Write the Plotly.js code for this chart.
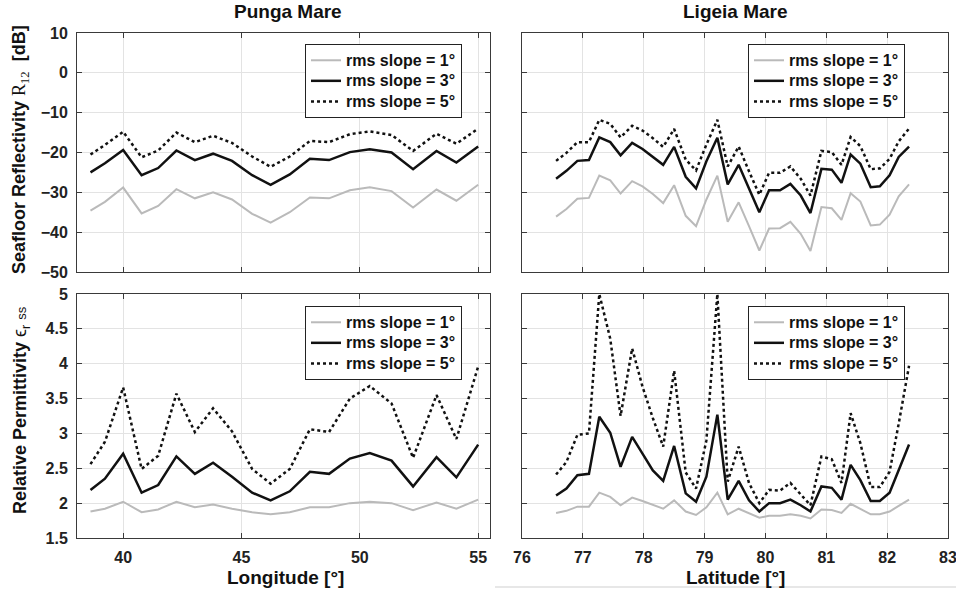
<!DOCTYPE html>
<html>
<head>
<meta charset="utf-8">
<script src="https://cdn.plot.ly/plotly-3.0.1.min.js"></script>
<style>html,body{margin:0;padding:0;background:#fff;}#chart{width:956px;height:589px;}</style>
</head>
<body>
<div id="chart"></div>
<script>
// ---------------- data ----------------
var punga_lon = [38.62, 39.23, 40.0, 40.78, 41.48, 42.25, 43.03, 43.80, 44.6, 45.45, 46.23, 47.04, 47.89, 48.70, 49.58, 50.42, 51.34, 52.25, 53.24, 54.08, 55.0];
var punga_R_1 = [-34.6, -32.4, -28.8, -35.3, -33.4, -29.2, -31.5, -30.0, -31.8, -35.4, -37.6, -35.0, -31.3, -31.5, -29.5, -28.7, -29.7, -33.8, -29.3, -32.1, -28.1];
var punga_R_3 = [-25.0, -22.7, -19.4, -25.7, -23.9, -19.5, -21.9, -20.3, -22.1, -25.7, -28.1, -25.5, -21.6, -21.9, -19.9, -19.2, -20.0, -24.2, -19.6, -22.5, -18.5];
var punga_R_5 = [-20.5, -18.1, -14.8, -21.2, -19.5, -15.0, -17.4, -15.8, -17.6, -21.0, -23.6, -21.0, -17.1, -17.4, -15.4, -14.7, -15.6, -19.6, -15.3, -17.8, -14.0];
var punga_E_1 = [1.88, 1.92, 2.02, 1.87, 1.91, 2.02, 1.94, 1.98, 1.92, 1.87, 1.84, 1.87, 1.94, 1.94, 2.00, 2.02, 2.00, 1.90, 2.01, 1.92, 2.05];
var punga_E_3 = [2.19, 2.35, 2.71, 2.15, 2.26, 2.67, 2.42, 2.58, 2.38, 2.15, 2.04, 2.17, 2.45, 2.42, 2.64, 2.72, 2.61, 2.24, 2.66, 2.37, 2.84];
var punga_E_5 = [2.56, 2.88, 3.66, 2.49, 2.68, 3.57, 3.02, 3.36, 3.03, 2.49, 2.28, 2.49, 3.06, 3.02, 3.50, 3.68, 3.43, 2.65, 3.55, 2.92, 3.96];

var ligeia_lat = [76.56, 76.73, 76.91, 77.10, 77.27, 77.45, 77.62, 77.81, 77.98, 78.15, 78.32, 78.50, 78.69, 78.86, 79.03, 79.21, 79.38, 79.56, 79.73, 79.90, 80.06, 80.24, 80.41, 80.58, 80.74, 80.92, 81.09, 81.25, 81.40, 81.56, 81.73, 81.88, 82.04, 82.19, 82.36];
var ligeia_R_1 = [-36.1, -34.2, -31.6, -31.4, -25.8, -27.0, -30.3, -27.2, -28.5, -30.4, -32.7, -28.2, -35.9, -38.5, -31.8, -25.8, -37.4, -32.5, -38.5, -44.6, -39.1, -39.0, -37.4, -40.4, -44.7, -33.7, -34.0, -36.9, -30.2, -32.3, -38.3, -38.1, -35.6, -31.0, -28.0];
var ligeia_R_3 = [-26.6, -24.6, -22.1, -21.9, -16.2, -17.4, -20.7, -17.6, -19.1, -21.0, -23.1, -18.6, -26.1, -29.0, -22.2, -16.3, -28.0, -23.1, -29.2, -35.0, -29.5, -29.5, -27.9, -30.8, -35.2, -24.1, -24.3, -27.6, -20.5, -22.8, -28.7, -28.5, -25.7, -21.1, -18.5];
var ligeia_R_5 = [-22.1, -20.1, -17.4, -17.4, -11.8, -12.8, -16.2, -13.3, -14.5, -16.4, -18.6, -14.1, -21.8, -24.5, -18.0, -11.8, -23.5, -18.5, -24.7, -30.6, -25.1, -25.1, -23.5, -26.6, -30.8, -19.6, -19.9, -23.1, -16.1, -18.4, -24.2, -24.0, -21.6, -17.2, -14.0];
var ligeia_E_1 = [1.86, 1.89, 1.95, 1.95, 2.15, 2.09, 1.97, 2.08, 2.03, 1.97, 1.92, 2.04, 1.88, 1.83, 1.94, 2.15, 1.84, 1.92, 1.86, 1.79, 1.82, 1.82, 1.84, 1.82, 1.78, 1.91, 1.90, 1.86, 1.99, 1.92, 1.84, 1.84, 1.88, 1.96, 2.05];
var ligeia_E_3 = [2.11, 2.21, 2.40, 2.42, 3.24, 3.01, 2.52, 2.95, 2.71, 2.47, 2.32, 2.82, 2.14, 2.02, 2.38, 3.27, 2.05, 2.32, 2.04, 1.88, 2.00, 2.00, 2.05, 1.97, 1.88, 2.24, 2.22, 2.05, 2.55, 2.33, 2.03, 2.03, 2.15, 2.47, 2.84];
var ligeia_E_5 = [2.41, 2.59, 2.98, 3.00, 5.00, 4.36, 3.25, 4.22, 3.67, 3.22, 2.81, 3.90, 2.44, 2.21, 2.90, 5.00, 2.31, 2.81, 2.29, 2.00, 2.19, 2.18, 2.29, 2.13, 1.97, 2.67, 2.63, 2.29, 3.29, 2.86, 2.23, 2.23, 2.45, 3.14, 3.97];

var seriesNames = ['rms slope = 1°', 'rms slope = 3°', 'rms slope = 5°'];
var panelTitles = ['Punga Mare', 'Ligeia Mare'];
var xTitles = ['Longitude [°]', 'Latitude [°]'];

// ---------------- layout helpers ----------------
var W = 956, H = 589;
function PX(p){ return p / W; }
function PY(p){ return 1 - p / H; }
var FONT = 'Liberation Sans, Arial, Helvetica, sans-serif';

var styles = [
  {color: '#bababa', width: 2, dash: 'solid'},
  {color: '#111111', width: 2.5, dash: 'solid'},
  {color: '#111111', width: 2.5, dash: 'dot'}
];

var traces = [];
function addPanel(x, ys, xa, ya, leg){
  for (var i = 0; i < 3; i++){
    traces.push({
      x: x, y: ys[i], type: 'scatter', mode: 'lines',
      name: '<span style="font-size:16px">' + seriesNames[i] + '</span>',
      xaxis: xa, yaxis: ya, legend: leg,
      line: styles[i], cliponaxis: true, hoverinfo: 'skip'
    });
  }
}
addPanel(punga_lon, [punga_R_1, punga_R_3, punga_R_5], 'x', 'y', 'legend');
addPanel(ligeia_lat, [ligeia_R_1, ligeia_R_3, ligeia_R_5], 'x2', 'y2', 'legend2');
addPanel(punga_lon, [punga_E_1, punga_E_3, punga_E_5], 'x3', 'y3', 'legend3');
addPanel(ligeia_lat, [ligeia_E_1, ligeia_E_3, ligeia_E_5], 'x4', 'y4', 'legend4');

var tickfont = {family: FONT, size: 16, color: '#222', weight: 'bold'};
function axis(dom, range, dtick, showLabels, anchor){
  return {
    domain: dom, range: range, dtick: dtick, tick0: 0, anchor: anchor,
    showgrid: true, gridcolor: '#e3e3e3', gridwidth: 1,
    zeroline: false, showline: true, linecolor: '#3a3a3a', linewidth: 1,
    mirror: 'ticks', ticks: 'inside', ticklen: 5, tickcolor: '#3a3a3a', tickwidth: 1,
    showticklabels: showLabels, tickfont: tickfont, ticklabelstandoff: 5,
    ticklabeloverflow: 'allow',
    fixedrange: true
  };
}
var xL = [PX(77), PX(490)], xR = [PX(522), PX(948)];
var yT = [PY(272), PY(33)], yB = [PY(538), PY(294)];

function legend(xpx, ypx){
  return {
    x: PX(xpx), y: PY(ypx), xanchor: 'right', yanchor: 'top',
    bgcolor: '#ffffff', bordercolor: '#222', borderwidth: 1,
    font: {family: FONT, size: 13.5, color: '#111', weight: 'bold'},
    itemwidth: 30, tracegroupgap: 0
  };
}

var annFont = {family: FONT, size: 19, color: '#111', weight: 'bold'};
var layout = {
  width: W, height: H, margin: {l: 0, r: 0, t: 0, b: 0},
  paper_bgcolor: '#ffffff', plot_bgcolor: '#ffffff', showlegend: true,
  xaxis: axis(xL, [38.05, 55.5], 5, false, 'y'),
  yaxis: axis(yT, [-50, 10], 10, true, 'x'),
  xaxis2: axis(xR, [76, 83], 1, false, 'y2'),
  yaxis2: axis(yT, [-50, 10], 10, false, 'x2'),
  xaxis3: axis(xL, [38.05, 55.5], 5, true, 'y3'),
  yaxis3: axis(yB, [1.5, 5], 0.5, true, 'x3'),
  xaxis4: axis(xR, [76, 83], 1, true, 'y4'),
  yaxis4: axis(yB, [1.5, 5], 0.5, false, 'x4'),
  legend: legend(462, 44),
  legend2: legend(905, 44),
  legend3: legend(462, 306),
  legend4: legend(905, 306),
  annotations: [
    {text: panelTitles[0], x: PX(288), y: PY(12), xref: 'paper', yref: 'paper', showarrow: false, font: annFont, xanchor: 'center', yanchor: 'middle'},
    {text: panelTitles[1], x: PX(735), y: PY(12), xref: 'paper', yref: 'paper', showarrow: false, font: annFont, xanchor: 'center', yanchor: 'middle'},
    {text: xTitles[0], x: PX(285), y: PY(577), xref: 'paper', yref: 'paper', showarrow: false, font: annFont, xanchor: 'center', yanchor: 'middle'},
    {text: xTitles[1], x: PX(735), y: PY(577), xref: 'paper', yref: 'paper', showarrow: false, font: annFont, xanchor: 'center', yanchor: 'middle'},
    {text: 'Seafloor Reflectivity <span style="font-family:Liberation Serif;font-weight:normal">R<sub>12</sub></span>  [dB]', x: PX(21), y: PY(150), xref: 'paper', yref: 'paper', showarrow: false, textangle: -90, font: {family: FONT, size: 18, color: '#111', weight: 'bold'}, xanchor: 'center', yanchor: 'middle'},
    {text: 'Relative Permittivity <span style="font-weight:normal">ϵ<sub>r</sub> <span style="font-size:13px">ss</span></span>', x: PX(21), y: PY(410), xref: 'paper', yref: 'paper', showarrow: false, textangle: -90, font: {family: FONT, size: 18, color: '#111', weight: 'bold'}, xanchor: 'center', yanchor: 'middle'}
  ],
  shapes: [
    {type: 'line', xref: 'paper', yref: 'paper', x0: PX(495), x1: PX(956), y0: PY(587), y1: PY(587), line: {color: '#cfcfcf', width: 1}}
  ]
};

Plotly.newPlot('chart', traces, layout, {displayModeBar: false, staticPlot: true});
</script>
</body>
</html>
